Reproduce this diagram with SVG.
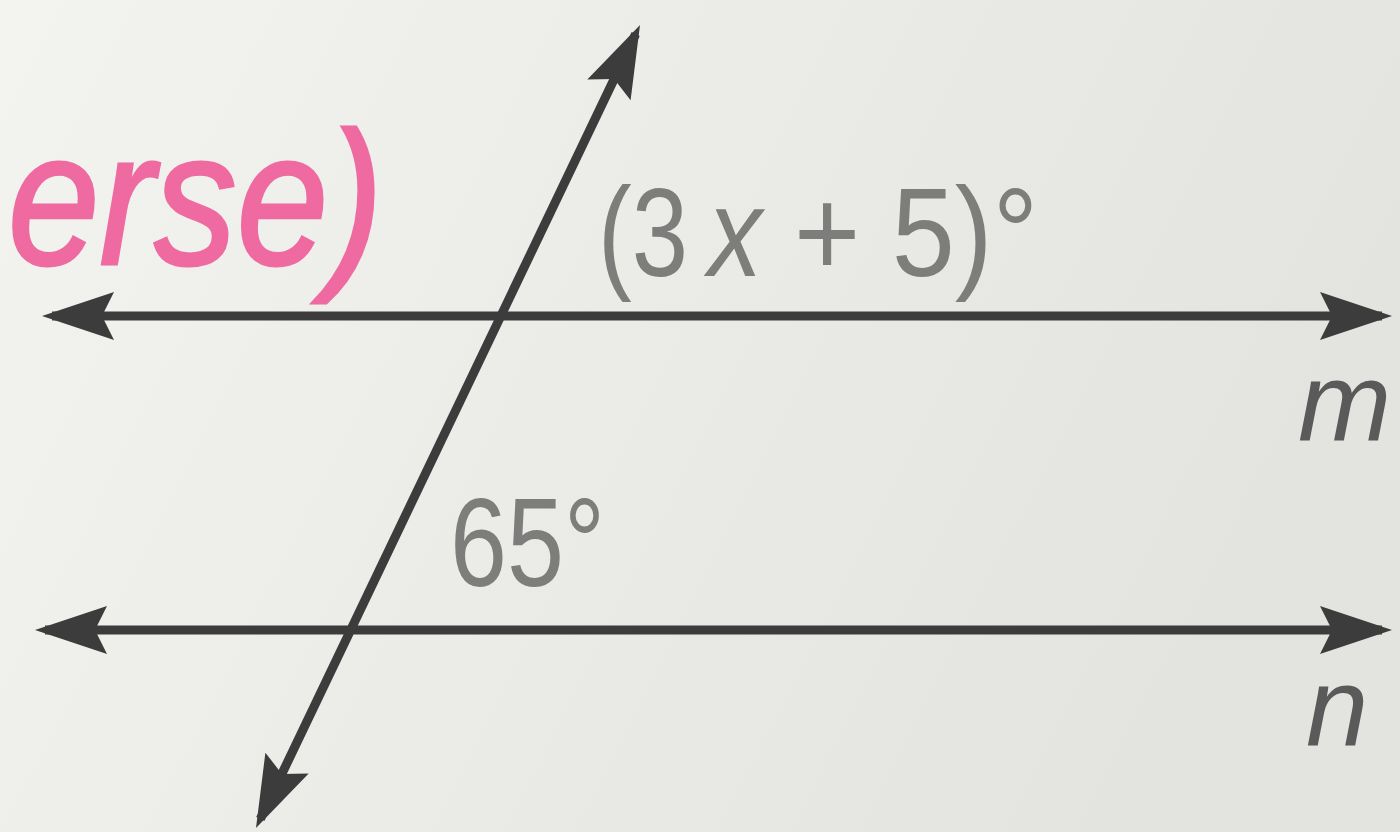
<svg xmlns="http://www.w3.org/2000/svg" width="1400" height="832" viewBox="0 0 1400 832">
  <defs>
    <linearGradient id="bg" x1="0" y1="0" x2="1" y2="0.3">
      <stop offset="0" stop-color="#f3f3ef"/>
      <stop offset="1" stop-color="#e3e3df"/>
    </linearGradient>
    <marker id="arr" viewBox="-70 -30 85 60" markerWidth="85" markerHeight="60" refX="0" refY="0" markerUnits="userSpaceOnUse" orient="auto-start-reverse">
      <path d="M10,0 L-62,-24 L-50,0 L-62,24 Z" fill="#3c3c3c"/>
    </marker>
    <style>
      .ln { stroke: #3c3c3c; stroke-width: 9; fill: none; marker-start: url(#arr); marker-end: url(#arr); }
      .lbl { font-family: "Liberation Sans", Arial, sans-serif; fill: #7d7d7b; font-size: 126px; }
      .ital { font-family: "Liberation Sans", Arial, sans-serif; fill: #5a5a5a; font-style: italic; }
      .hand { font-family: "Liberation Sans", Arial, sans-serif; fill: #ee6aa0; stroke: #ee6aa0; stroke-width: 3; font-style: italic; }
    </style>
  </defs>
  <rect width="1400" height="832" fill="url(#bg)"/>

  <g id="annotation">
    <text class="hand" x="8" y="264" font-size="190" textLength="375" lengthAdjust="spacingAndGlyphs">erse)</text>
  </g>

  <g id="connectors">
    <line id="line-m" class="ln" x1="52" y1="316" x2="1382" y2="316"/>
    <line id="line-n" class="ln" x1="45" y1="630" x2="1382" y2="630"/>
    <line id="transversal" class="ln" x1="260.3" y1="819" x2="635.7" y2="34"/>
  </g>

  <g id="label-3x5">
    <text class="lbl" x="598" y="276" textLength="90" lengthAdjust="spacingAndGlyphs">(3</text>
    <text class="lbl" x="708" y="276" font-style="italic" textLength="54" lengthAdjust="spacingAndGlyphs">x</text>
    <text class="lbl" x="794" y="276" textLength="244" lengthAdjust="spacingAndGlyphs">+ 5)°</text>
  </g>
  <g id="label-65">
    <text class="lbl" x="450" y="586" font-size="120" textLength="155" lengthAdjust="spacingAndGlyphs">65°</text>
  </g>
  <g id="label-m">
    <text class="ital" x="1298" y="440" font-size="112">m</text>
  </g>
  <g id="label-n">
    <text class="ital" x="1306" y="745" font-size="112">n</text>
  </g>
</svg>
